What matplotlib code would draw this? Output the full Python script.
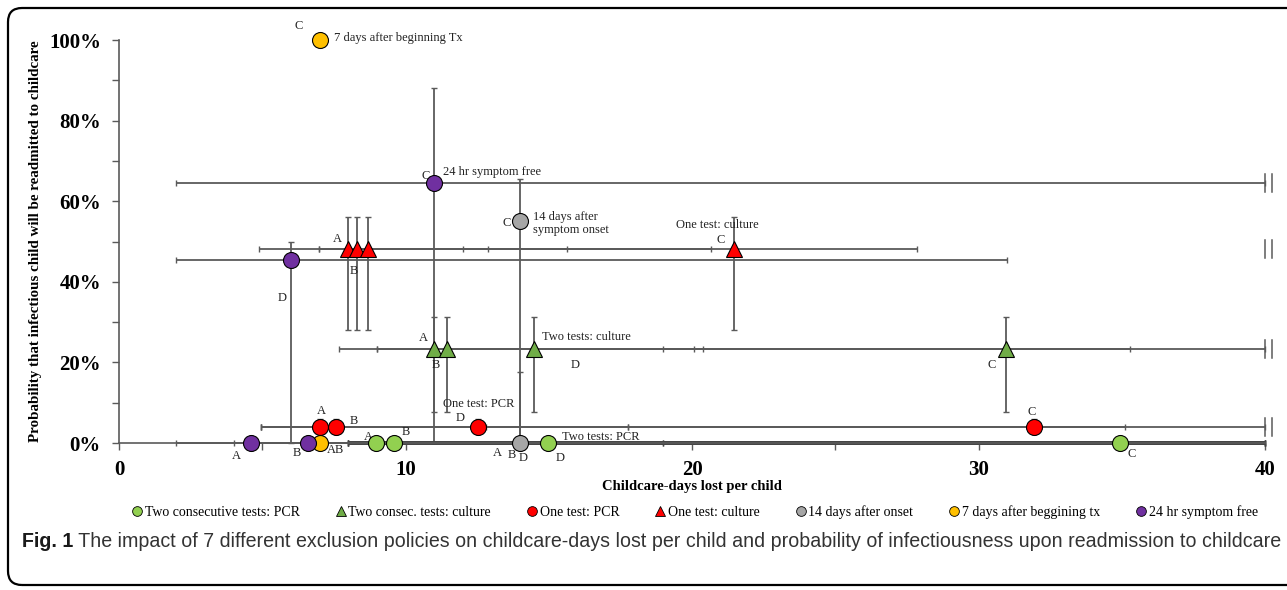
import numpy as np
import matplotlib
matplotlib.use("Agg")
import matplotlib.pyplot as plt
from matplotlib.lines import Line2D
from matplotlib.patches import FancyBboxPatch
from matplotlib.transforms import IdentityTransform

# ---- data (childcare-days lost, % probability infectious) ----
# each policy: points A, B, C, D ; error bars as [low, high] limits
pcr2_x = [8.98, 9.58, 34.95, 14.96]
pcr2_y = [0.0, 0.0, 0.0, 0.0]
pcr2_xlo = [8.0, 8.0, 19.0, 8.0]
pcr2_xhi = [40.0, 40.0, 40.0, 40.0]

cul2_x = [11.0, 11.45, 30.96, 14.47]
cul2_y = [23.3, 23.3, 23.3, 23.3]
cul2_xlo = [7.68, 9.0, 19.0, 9.0]
cul2_xhi = [20.07, 20.39, 35.3, 40.0]
cul2_ylo = [7.8, 7.8, 7.8, 7.8]
cul2_yhi = [31.3, 31.3, 31.3, 31.3]

pcr1_x = [7.01, 7.57, 31.94, 12.54]
pcr1_y = [4.05, 4.05, 4.05, 4.05]
pcr1_xlo = [4.95, 4.95, 17.77, 4.95]
pcr1_xhi = [12.81, 17.77, 40.0, 35.1]
pcr1_ylo = [2.2, 2.2, 2.2, 2.2]
pcr1_yhi = [5.9, 5.9, 5.9, 5.9]

cul1_x = [8.0, 8.32, 21.48, 8.70]
cul1_y = [48.2, 48.2, 48.2, 48.2]
cul1_xlo = [4.89, 6.99, 12.0, 6.99]
cul1_xhi = [15.64, 12.88, 27.84, 20.65]
cul1_ylo = [28.0, 28.0, 28.0, 28.0]
cul1_yhi = [56.0, 56.0, 56.0, 56.0]

onset14_x = [14.0, 14.0]          # A/B/D, C
onset14_y = [0.0, 55.0]
onset14_ylo = [0.0, 0.0]
onset14_yhi = [17.7, 65.6]

tx7_x = [7.0, 7.0]                # A/B, C
tx7_y = [0.0, 100.0]

free24_x = [4.6, 6.6, 10.98, 6.0]
free24_y = [0.0, 0.0, 64.5, 45.5]
free24_xlo = [2.0, 4.0, 2.0, 2.0]
free24_xhi = [8.0, 19.0, 40.0, 31.0]
free24_ylo = [0.0, 0.0, 0.0, 0.0]
free24_yhi = [0.0, 0.0, 88.2, 50.0]

break_rows = [64.5, 48.2, 23.3, 4.05]

legend_labels = ["Two consecutive tests: PCR", "Two consec. tests: culture",
                 "One test: PCR", "One test: culture", "14 days after onset",
                 "7 days after beggining tx", "24 hr symptom free"]

SERIF = "Liberation Serif"
GREY = "#5a5a5a"
C_LGREEN, C_GREEN, C_RED = "#92D050", "#70AD47", "#FF0000"
C_GREY, C_YELLOW, C_PURPLE = "#A6A6A6", "#FFC000", "#7030A0"

fig = plt.figure(figsize=(12.87, 5.9), dpi=100)
ax = fig.add_axes([0.0925, 0.249, 0.8905, 0.683])


def bars(x, y, xlo=None, xhi=None, ylo=None, yhi=None, lw=1.3, color=GREY):
    x = np.array(x); y = np.array(y)
    xerr = None
    yerr = None
    if xlo is not None:
        xerr = [x - np.array(xlo), np.array(xhi) - x]
    if ylo is not None:
        yerr = [y - np.array(ylo), np.array(yhi) - y]
    ax.errorbar(x, y, xerr=xerr, yerr=yerr, fmt="none", ecolor=color,
                elinewidth=lw, capsize=2.5, capthick=1, zorder=2, clip_on=False)


# error bars first
bars(free24_x, free24_y, free24_xlo, free24_xhi, free24_ylo, free24_yhi)
bars(onset14_x, onset14_y, ylo=onset14_ylo, yhi=onset14_yhi)
bars(cul1_x, cul1_y, cul1_xlo, cul1_xhi, cul1_ylo, cul1_yhi)
bars(cul2_x, cul2_y, cul2_xlo, cul2_xhi, cul2_ylo, cul2_yhi)
bars(pcr1_x, pcr1_y, pcr1_xlo, pcr1_xhi, pcr1_ylo, pcr1_yhi)
bars(pcr2_x, pcr2_y, pcr2_xlo, pcr2_xhi, lw=2.6, color="#454545")

# break marks at the right end
for r in break_rows:
    for bx in (40.0, 40.25):
        ax.plot([bx, bx], [r - 2.3, r + 2.3], color=GREY, lw=1.1,
                clip_on=False, zorder=2)

mk = dict(markeredgecolor="black", markeredgewidth=0.8, linestyle="none",
          clip_on=False, zorder=4)
ax.plot(pcr2_x, pcr2_y, "o", color=C_LGREEN, markersize=11.5, **mk)
ax.plot(cul2_x, cul2_y, "^", color=C_GREEN, markersize=12, **mk)
ax.plot(pcr1_x, pcr1_y, "o", color=C_RED, markersize=11.5, **mk)
ax.plot(cul1_x, cul1_y, "^", color=C_RED, markersize=12, **mk)
ax.plot(onset14_x, onset14_y, "o", color=C_GREY, markersize=11.5, **mk)
ax.plot(tx7_x, tx7_y, "o", color=C_YELLOW, markersize=11.5, **mk)
ax.plot(free24_x, free24_y, "o", color=C_PURPLE, markersize=11.5, **mk)

# point labels
notes = [
    ("C", 6.14, 103.5), ("7 days after beginning Tx", 7.5, 100.5),
    ("C", 10.55, 66.3), ("24 hr symptom free", 11.3, 67.2),
    ("C", 13.4, 54.6), ("14 days after\nsymptom onset", 14.45, 54.5),
    ("A", 7.45, 50.6), ("B", 8.05, 42.8), ("D", 5.55, 36.0),
    ("One test: culture", 19.45, 54.0), ("C", 20.85, 50.3),
    ("A", 10.45, 26.0), ("B", 10.9, 19.4), ("Two tests: culture", 14.75, 26.3),
    ("D", 15.75, 19.4), ("C", 30.3, 19.4),
    ("One test: PCR", 11.3, 9.6), ("A", 6.9, 8.0), ("B", 8.05, 5.6),
    ("D", 11.75, 6.3), ("C", 31.7, 7.8),
    ("Two tests: PCR", 15.45, 1.5), ("A", 8.55, 1.5), ("B", 9.85, 2.7),
    ("A", 3.95, -3.1), ("B", 6.05, -2.4), ("AB", 7.25, -1.8),
    ("A", 13.05, -2.4), ("B", 13.55, -3.0), ("D", 13.95, -3.7),
    ("D", 15.25, -3.7), ("C", 35.2, -2.6),
]
for txt, tx, ty in notes:
    ax.text(tx, ty, txt, fontsize=9, family=SERIF, va="center", ha="left",
            color="#222222", clip_on=False, linespacing=1.15)

# axes styling
ax.set_xlim(0, 40)
ax.set_ylim(0, 100)
for s in ("top", "right"):
    ax.spines[s].set_visible(False)
for s in ("left", "bottom"):
    ax.spines[s].set_color(GREY)
    ax.spines[s].set_linewidth(1.2)
ax.set_xticks([0, 10, 20, 30, 40])
ax.set_xticks([5, 15, 25, 35], minor=True)
ax.set_yticks([0, 20, 40, 60, 80, 100])
ax.set_yticks([10, 30, 50, 70, 90], minor=True)
ax.set_yticklabels(["0%", "20%", "40%", "60%", "80%", "100%"])
ax.tick_params(which="both", direction="out", length=5, color=GREY, width=1)
ax.tick_params(axis="x", pad=7)
ax.tick_params(axis="y", pad=8)
for lab in ax.get_xticklabels() + ax.get_yticklabels():
    lab.set_fontfamily(SERIF)
    lab.set_fontweight("bold")
    lab.set_fontsize(15)

ax.set_xlabel("Childcare-days lost per child", family=SERIF, fontweight="bold",
              fontsize=10.5, labelpad=0)
ax.set_ylabel("Probability that infectious child will be readmitted to childcare",
              family=SERIF, fontweight="bold", fontsize=10.8, labelpad=5)

# legend
handles = [
    Line2D([], [], marker="o", color=C_LGREEN, ls="none", mec="black", mew=0.6, ms=7),
    Line2D([], [], marker="^", color=C_GREEN, ls="none", mec="black", mew=0.6, ms=7),
    Line2D([], [], marker="o", color=C_RED, ls="none", mec="black", mew=0.6, ms=7),
    Line2D([], [], marker="^", color=C_RED, ls="none", mec="black", mew=0.6, ms=7),
    Line2D([], [], marker="o", color=C_GREY, ls="none", mec="black", mew=0.6, ms=7),
    Line2D([], [], marker="o", color=C_YELLOW, ls="none", mec="black", mew=0.6, ms=7),
    Line2D([], [], marker="o", color=C_PURPLE, ls="none", mec="black", mew=0.6, ms=7),
]
fig.legend(handles, legend_labels, loc="center", bbox_to_anchor=(0.54, 0.132),
           ncol=7, frameon=False, handlelength=0.7, handletextpad=0.2,
           columnspacing=2.6, prop={"family": SERIF, "size": 10})

# caption, shrunk to fit the width the reference uses
cap_font = ["Liberation Sans", "DejaVu Sans"]
t1 = fig.text(0.017, 0.083, "Fig. 1", family=cap_font, fontweight="bold",
              fontsize=15, va="center", color="#1a1a1a")
t2 = ax.annotate(" The impact of 7 different exclusion policies on childcare-days lost per "
                 "child and probability of infectiousness upon readmission to childcare",
                 xy=(1, 0.5), xycoords=t1, va="center", ha="left", family=cap_font,
                 fontsize=15, color="#333333", annotation_clip=False)
fig.canvas.draw()
rend = fig.canvas.get_renderer()
w = t1.get_window_extent(rend).width + t2.get_window_extent(rend).width
k = 1258.0 / w
t1.set_fontsize(15 * k)
t2.set_fontsize(15 * k)

# outer rounded frame
frame = FancyBboxPatch((8, 5), 1310, 577, boxstyle="round,pad=0,rounding_size=14",
                       transform=IdentityTransform(), fill=False,
                       edgecolor="black", linewidth=1.6)
fig.patches.append(frame)

fig.savefig("out.png", dpi=100)
